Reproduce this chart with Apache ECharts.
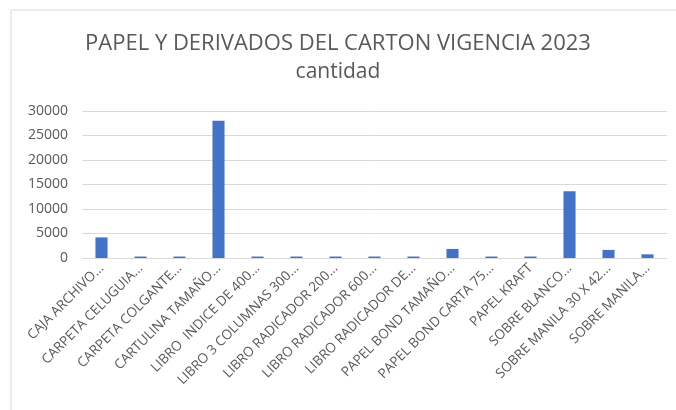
<!DOCTYPE html>
<html>
<head>
    <meta charset="utf-8">
    <title>Papel y derivados del carton</title>
    <script src="https://cdn.jsdelivr.net/npm/echarts@6/dist/echarts.min.js"></script>
    <style>
        body { margin: 0; background: #fff; }
        #chart { width: 676px; height: 410px; }
    </style>
</head>
<body>
<div id="chart"></div>
<script>
    // datos
    var categorias = [
        'CAJA ARCHIVO...', 'CARPETA CELUGUIA...', 'CARPETA COLGANTE...', 'CARTULINA TAMAÑO...',
        'LIBRO  INDICE DE 400...', 'LIBRO 3 COLUMNAS 300...', 'LIBRO RADICADOR 200...',
        'LIBRO RADICADOR 600...', 'LIBRO RADICADOR DE...', 'PAPEL BOND TAMAÑO...',
        'PAPEL BOND CARTA 75...', 'PAPEL KRAFT', 'SOBRE BLANCO...', 'SOBRE MANILA 30 X 42...',
        'SOBRE MANILA...'
    ];
    var cantidad = [4200, 300, 300, 28000, 300, 300, 300, 300, 300, 1850, 300, 300, 13600, 1650, 750];
    var ticksY = [0, 5000, 10000, 15000, 20000, 25000, 30000];

    var chart = echarts.init(document.getElementById('chart'));
    var txt = '#595959';

    var option = {
        animation: false,
        backgroundColor: '#fff',
        title: {
            text: 'PAPEL Y DERIVADOS DEL CARTON VIGENCIA 2023',
            subtext: 'cantidad',
            left: 'center',
            top: 28,
            itemGap: 7,
            textStyle: { fontFamily: 'Open Sans', fontWeight: 'normal', fontSize: 22, color: txt },
            subtextStyle: { fontFamily: 'Open Sans', fontSize: 21, color: txt }
        },
        graphic: [
            { type: 'line', shape: { x1: 11, y1: 10, x2: 11, y2: 410 }, style: { stroke: '#d9d9d9', lineWidth: 1 } },
            { type: 'line', shape: { x1: 11, y1: 10, x2: 676, y2: 10 }, style: { stroke: '#d9d9d9', lineWidth: 1 } }
        ],
        grid: { left: 82, right: 9, top: 111, bottom: 152, containLabel: false },
        xAxis: {
            type: 'category',
            data: categorias,
            axisTick: { show: false },
            axisLine: { lineStyle: { color: '#d9d9d9' } },
            axisLabel: {
                interval: 0,
                rotate: 45,
                margin: 8,
                color: txt,
                fontFamily: 'Open Sans',
                fontSize: 13.5
            }
        },
        yAxis: {
            type: 'value',
            min: ticksY[0],
            max: ticksY[ticksY.length - 1],
            interval: 5000,
            axisLine: { show: false },
            axisTick: { show: false },
            splitLine: { lineStyle: { color: '#d9d9d9' } },
            axisLabel: {
                color: txt, fontFamily: 'Open Sans', fontSize: 14, margin: 14,
                formatter: function (v) { return String(v); }
            }
        },
        series: [
            {
                name: 'cantidad',
                type: 'bar',
                data: cantidad,
                barWidth: '31%',
                itemStyle: { color: '#4472c4' }
            }
        ]
    };

    chart.setOption(option);
</script>
</body>
</html>
